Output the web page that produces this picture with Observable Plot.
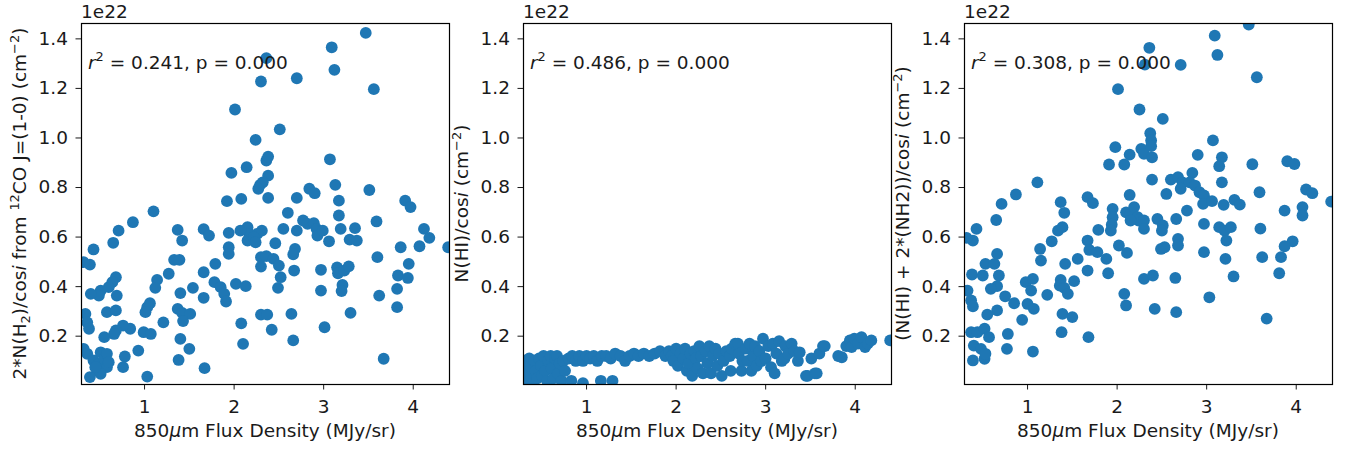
<!DOCTYPE html>
<html><head><meta charset="utf-8">
<script src="https://cdn.jsdelivr.net/npm/d3@7"></script>
<script src="https://cdn.jsdelivr.net/npm/@observablehq/plot@0.6"></script>
<style>
html,body{margin:0;padding:0;background:#fff;}
#wrap{position:relative;width:1351px;height:451px;overflow:hidden;font-family:"DejaVu Sans",sans-serif;}
#wrap svg{position:absolute;top:0;background:transparent;overflow:visible;}
</style></head><body><div id="wrap"></div>
<script>
// Values in units of 1e22 cm^-2; flux in MJy/sr
const xTicks = [1, 2, 3, 4];
const yTicks = [0.2, 0.4, 0.6, 0.8, 1.0, 1.2, 1.4];
const stats = ["0.241", "0.486", "0.308"];

// Panel 1: 2*N(H2)/cos i from 12CO
const flux1 = [3.47,2.36,3.09,3.12,2.30,2.70,3.56,2.01,2.51,2.24,3.07,2.36,2.38,1.97,2.14,2.38,2.29,2.32,2.27,2.38,2.08,1.92,2.70,2.84,2.90,3.13,3.17,3.51,3.91,3.97,2.60,2.77,2.82,2.89,2.92,2.93,2.70,2.99,3.06,3.17,3.19,3.35,3.29,3.37,3.59,4.12,4.18,4.07,4.39,3.86,3.60,3.95,3.83,3.94,3.82,3.82,3.62,3.67,2.97,2.97,3.01,3.15,3.16,3.23,3.28,3.21,3.20,3.30,2.68,2.66,2.67,2.64,2.66,2.55,2.46,2.31,2.26,2.30,2.30,2.36,2.44,2.50,2.52,2.49,2.30,2.37,2.42,2.15,2.17,2.15,2.22,2.24,2.07,1.94,1.94,1.94,2.02,2.13,2.08,2.10,1.66,1.72,1.79,1.66,1.78,1.85,1.89,1.91,1.66,1.67,1.37,1.42,1.33,1.39,1.27,1.14,1.12,1.40,1.54,1.37,1.42,1.51,1.43,1.40,1.50,1.38,1.21,1.03,1.10,0.87,0.71,0.65,1.03,1.06,1.01,0.99,1.07,0.93,0.84,0.76,0.68,0.66,0.78,0.76,0.55,0.68,0.64,0.69,0.58,0.68,0.51,0.49,0.40,0.60,0.43,0.39,0.32,0.34,0.36,0.38,0.32,0.36,0.43,0.51,0.49,0.55,0.58,0.47,0.51,0.39,0.58,0.60,0.45];
const nh2 = [1.424,1.322,1.366,1.275,1.228,1.241,1.197,1.115,1.035,0.992,0.914,0.909,0.925,0.859,0.882,0.848,0.811,0.821,0.795,0.758,0.754,0.745,0.758,0.795,0.777,0.811,0.747,0.790,0.747,0.721,0.698,0.667,0.653,0.656,0.633,0.606,0.626,0.626,0.583,0.687,0.633,0.636,0.590,0.586,0.663,0.633,0.597,0.563,0.559,0.559,0.519,0.492,0.445,0.435,0.391,0.317,0.364,0.109,0.468,0.384,0.236,0.478,0.454,0.465,0.482,0.407,0.382,0.294,0.552,0.530,0.465,0.290,0.183,0.633,0.575,0.626,0.613,0.519,0.481,0.523,0.512,0.485,0.438,0.395,0.287,0.287,0.226,0.640,0.613,0.586,0.600,0.579,0.626,0.617,0.559,0.532,0.411,0.402,0.252,0.169,0.632,0.606,0.492,0.458,0.418,0.398,0.371,0.340,0.355,0.071,0.629,0.586,0.508,0.508,0.452,0.427,0.395,0.374,0.395,0.310,0.294,0.290,0.261,0.189,0.149,0.104,0.256,0.037,0.704,0.660,0.626,0.577,0.317,0.333,0.297,0.216,0.209,0.142,0.230,0.243,0.223,0.209,0.118,0.075,0.196,0.438,0.418,0.364,0.297,0.304,0.384,0.364,0.371,0.398,0.550,0.489,0.499,0.290,0.256,0.230,0.149,0.129,0.102,0.135,0.088,0.109,0.075,0.061,0.048,0.035,0.129,0.095,0.075];

// Panel 2: N(HI)/cos i
const flux2 = [0.31,0.33,0.32,0.36,0.37,0.38,0.40,0.42,0.43,0.45,0.47,0.49,0.50,0.52,0.54,0.56,0.57,0.60,0.61,0.63,0.65,0.67,0.68,0.70,0.72,0.74,0.76,
 0.80,0.84,0.88,0.92,0.96,1.00,1.04,1.08,1.12,1.17,1.22,1.27,1.32,1.38,1.43,1.48,1.53,1.58,1.64,1.70,1.76,1.82,1.88,
 0.83,0.96,1.16,1.29,
 1.92,1.95,1.97,2.00,2.02,2.05,2.08,2.10,2.12,2.14,2.16,2.18,2.20,2.22,2.24,2.26,2.28,2.30,2.33,2.35,2.37,2.39,2.41,2.44,2.46,2.48,2.51,2.53,2.56,2.60,
 2.61,2.62,2.66,2.69,2.70,2.73,2.74,2.78,2.80,2.82,2.84,2.86,2.88,2.90,2.93,2.95,2.97,3.00,3.03,3.06,3.08,3.10,3.12,3.15,3.18,3.21,3.22,3.25,3.29,3.32,3.36,3.38,3.45,3.47,3.51,3.55,3.57,3.60,3.64,3.66,
 3.81,3.85,3.90,3.94,3.96,3.99,4.03,4.07,4.11,4.14,4.18,4.39];
const nhi = [0.10,0.06,0.02,0.11,0.08,0.04,0.01,0.10,0.06,0.03,0.11,0.08,0.04,0.12,0.06,0.02,0.10,0.12,0.07,0.03,0.11,0.12,0.05,0.09,0.02,0.10,0.06,
 0.11,0.12,0.10,0.12,0.10,0.12,0.11,0.12,0.10,0.12,0.12,0.11,0.13,0.12,0.10,0.12,0.13,0.12,0.13,0.12,0.13,0.14,0.12,
 0.02,0.01,0.02,0.02,
 0.14,0.12,0.10,0.15,0.08,0.13,0.11,0.15,0.06,0.09,0.13,0.04,0.14,0.11,0.07,0.16,0.12,0.05,0.14,0.09,0.16,0.05,0.12,0.15,0.08,0.13,0.04,0.10,0.14,0.12,
 0.06,0.15,0.17,0.17,0.13,0.06,0.10,0.15,0.10,0.17,0.06,0.12,0.16,0.08,0.14,0.10,0.19,0.11,0.16,0.075,0.17,0.05,0.13,0.18,0.10,0.11,0.16,0.13,0.17,0.14,0.10,0.135,0.04,0.04,0.11,0.05,0.05,0.13,0.16,0.16,
 0.12,0.115,0.16,0.183,0.156,0.19,0.17,0.196,0.156,0.17,0.183,0.183];

// Panel 3: (N(HI) + 2*N(H2))/cos i
const flux3 = [3.47,3.09,3.12,2.36,2.31,2.71,3.56,2.01,2.25,2.51,2.37,2.38,3.07,1.98,2.27,2.30,2.38,2.39,2.14,2.08,1.91,2.90,3.17,3.14,3.17,3.51,3.90,3.98,2.39,2.14,2.55,2.60,2.68,2.73,2.71,2.84,2.81,2.87,2.92,2.97,2.78,2.96,3.06,3.19,3.31,3.37,3.59,4.11,4.18,3.87,4.07,4.07,4.39,3.60,3.96,3.87,3.83,3.81,3.62,3.67,2.97,2.97,3.03,3.14,3.20,3.27,3.22,3.21,3.30,2.66,2.68,2.68,2.65,2.66,2.45,2.51,2.50,2.49,2.53,2.30,2.40,2.42,2.10,2.15,2.19,2.23,2.24,2.30,2.30,2.15,2.02,2.11,2.08,2.10,1.95,1.95,1.94,1.93,1.67,1.73,1.79,1.67,1.69,1.78,1.88,1.67,1.90,1.68,1.37,1.41,1.34,1.39,1.27,1.14,1.15,1.42,1.52,1.56,1.37,1.36,1.41,1.45,1.22,1.39,1.50,1.38,1.11,0.87,0.71,0.65,0.43,0.39,0.32,0.38,0.50,0.53,0.63,0.66,0.68,0.66,0.59,0.75,0.85,0.98,1.06,1.04,1.00,1.07,0.94,0.66,0.55,0.33,0.37,0.39,0.37,0.44,0.52,0.57,0.40,0.48,0.39,0.52,0.53,0.77,0.78,1.06];
const ntot = [1.458,1.413,1.335,1.364,1.296,1.295,1.245,1.197,1.115,1.077,1.019,0.990,0.990,0.963,0.956,0.936,0.967,0.922,0.933,0.893,0.893,0.932,0.922,0.886,0.821,0.894,0.906,0.895,0.832,0.770,0.774,0.832,0.842,0.821,0.795,0.859,0.821,0.808,0.781,0.768,0.707,0.734,0.745,0.730,0.750,0.731,0.781,0.792,0.777,0.707,0.721,0.687,0.743,0.634,0.583,0.563,0.519,0.454,0.519,0.271,0.653,0.539,0.357,0.640,0.626,0.640,0.586,0.512,0.441,0.673,0.593,0.566,0.435,0.297,0.673,0.647,0.626,0.552,0.559,0.431,0.445,0.310,0.700,0.694,0.721,0.680,0.667,0.667,0.633,0.667,0.566,0.536,0.371,0.324,0.714,0.680,0.650,0.626,0.761,0.737,0.629,0.586,0.548,0.539,0.512,0.465,0.454,0.196,0.741,0.698,0.626,0.640,0.583,0.552,0.505,0.492,0.422,0.512,0.427,0.404,0.395,0.371,0.367,0.290,0.277,0.216,0.821,0.772,0.734,0.669,0.633,0.586,0.597,0.449,0.445,0.492,0.492,0.532,0.445,0.402,0.391,0.361,0.333,0.418,0.431,0.384,0.330,0.310,0.266,0.304,0.287,0.384,0.344,0.320,0.216,0.216,0.230,0.196,0.162,0.149,0.102,0.109,0.129,0.149,0.209,0.138];

const TXT = "#1a1a1a";
const FS = 18.5;
const ML = 81, MR = 10, MT = 23, MB = 67, W = 459, H = 451;

// label parts: [text, kind] kind: n normal, i italic, sup, sub
const yLabels = [
  [["2*N(H","n"],["2","sub"],[")/cos","n"],["i","i"],[" from ","n"],["12","sup"],["CO J=(1-0) (cm","n"],["\u22122","sup"],[")","n"]],
  [["N(HI)/cos","n"],["i","i"],[" (cm","n"],["\u22122","sup"],[")","n"]],
  [["(N(HI) + 2*(NH2))/cos","n"],["i","i"],[" (cm","n"],["\u22122","sup"],[")","n"]]
];
const xLabel = [["850","n"],["\u03bc","i"],["m Flux Density (MJy/sr)","n"]];

function addParts(textSel, parts) {
  let shift = 0;
  for (const [t, k] of parts) {
    const ts = textSel.append("tspan").text(t);
    let target = 0;
    if (k === "sup") { target = -7.5; ts.attr("font-size", FS * 0.7); }
    else if (k === "sub") { target = 4; ts.attr("font-size", FS * 0.7); }
    if (k === "i") ts.attr("font-style", "italic");
    if (target !== shift) { ts.attr("dy", target - shift); shift = target; }
  }
}

const panelsDef = [
  {x: flux1, y: nh2, left: 0},
  {x: flux2, y: nhi, left: 441.7},
  {x: flux3, y: ntot, left: 883}
];

const wrap = document.getElementById("wrap");
panelsDef.forEach((p, k) => {
  const data = p.x.map((x, i) => ({x, y: p.y[i]}));
  const svg = Plot.plot({
    width: W, height: H,
    marginLeft: ML, marginRight: MR, marginTop: MT, marginBottom: MB,
    style: {fontFamily: "'DejaVu Sans', sans-serif", fontSize: FS + "px", background: "transparent", color: TXT, overflow: "visible"},
    x: {domain: [0.296, 4.405]},
    y: {domain: [0.005, 1.462]},
    marks: [
      Plot.dot(data, {x: "x", y: "y", r: 5.9, fill: "#1f77b4", clip: true}),
      Plot.axisX({ticks: xTicks, tickSize: 5.5, tickPadding: 9.5, label: null, tickFormat: d => String(d)}),
      Plot.axisY({ticks: yTicks, tickSize: 5.5, tickPadding: 8, label: null, tickFormat: d3.format(".1f")}),
      Plot.frame({stroke: "#000", strokeWidth: 1.2})
    ]
  });
  svg.style.left = p.left + "px";
  const s = d3.select(svg);
  const g = s.append("g").attr("fill", TXT).attr("font-family", "'DejaVu Sans', sans-serif")
    .attr("font-size", FS).attr("text-anchor", "start");
  g.append("text").attr("text-anchor", "start").attr("x", ML).attr("y", 17.5).text("1e22");
  const ann = g.append("text").attr("text-anchor", "start").attr("x", ML + 7).attr("y", 68.5);
  addParts(ann, [["r","i"],["2","sup"],[" = " + stats[k] + ", p = 0.000","n"]]);
  const yl = g.append("text").attr("text-anchor", "middle")
    .attr("transform", `translate(${ML - 55},${MT + (H - MT - MB) / 2}) rotate(-90)`);
  addParts(yl, yLabels[k]);
  const xl = g.append("text").attr("text-anchor", "middle")
    .attr("x", ML + (W - ML - MR) / 2).attr("y", 436.5);
  addParts(xl, xLabel);
  wrap.appendChild(svg);
});
</script></body></html>
